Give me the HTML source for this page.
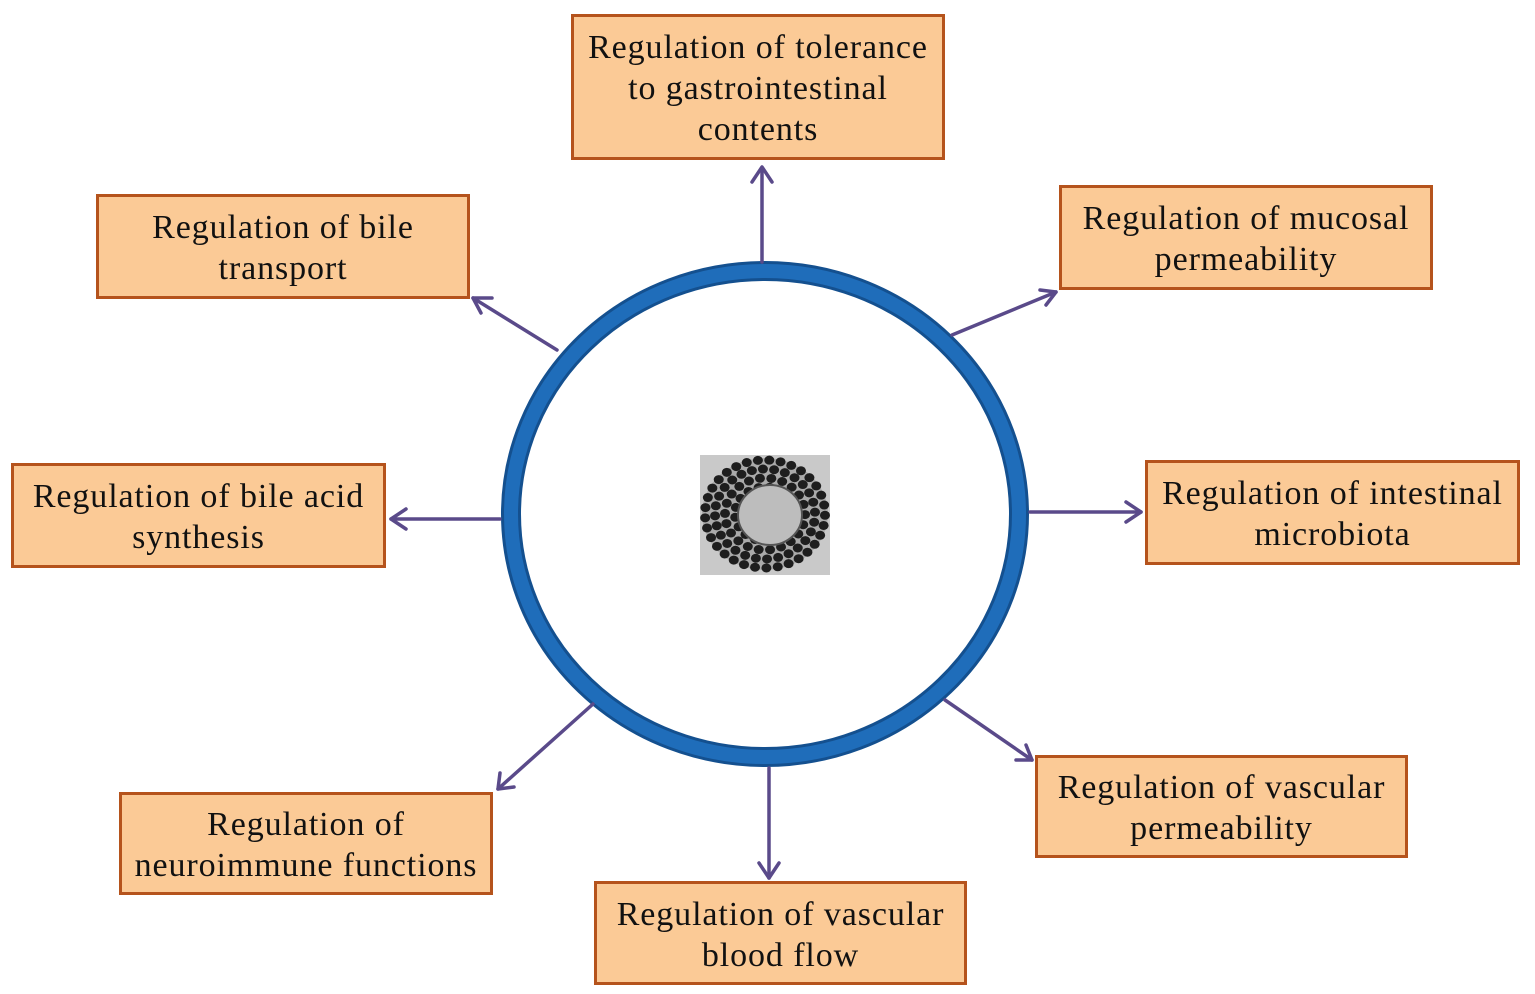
<!DOCTYPE html>
<html><head><meta charset="utf-8"><style>
body{margin:0;background:#fff;width:1535px;height:994px;overflow:hidden;position:relative;font-family:"Liberation Serif",serif;}
.b{position:absolute;box-sizing:border-box;background:#fbca96;border:3px solid #b5531c;display:flex;align-items:center;justify-content:center;text-align:center;font-size:34px;line-height:41px;color:#111;letter-spacing:0.9px;padding-top:3px;}
svg{position:absolute;left:0;top:0}
</style></head><body>
<svg width="1535" height="994" id="s">
<ellipse cx="765" cy="514" rx="254" ry="243" fill="none" stroke="#14508f" stroke-width="20"/>
<ellipse cx="765" cy="514" rx="254" ry="243" fill="none" stroke="#1f6dba" stroke-width="14"/>
<rect x="700" y="455" width="130" height="120" fill="#c9c9c9"/>
<ellipse cx="765" cy="514" rx="63" ry="56" fill="#aaa"/>
<g id="bl" fill="#1e1e1e"></g>
<ellipse cx="770" cy="515" rx="32" ry="30" fill="#bdbdbd" stroke="#555" stroke-width="2"/>
<g stroke="#5a4a8a" stroke-width="3.5" fill="none" stroke-linecap="round" stroke-linejoin="round">
<line x1="762" y1="262" x2="762" y2="168"/><polyline points="752,182 762,167 772,182"/>
<line x1="557" y1="350" x2="473" y2="298"/><polyline points="492,298 473,298 481,313"/>
<line x1="952" y1="335" x2="1056" y2="292"/><polyline points="1040,290 1056,292 1046,305"/>
<line x1="500" y1="519" x2="391" y2="519"/><polyline points="406,509 391,519 406,529"/>
<line x1="1030" y1="512" x2="1141" y2="512"/><polyline points="1126,502 1141,512 1126,522"/>
<line x1="593" y1="704" x2="498" y2="789"/><polyline points="500,773 498,789 514,787"/>
<line x1="769" y1="768" x2="769" y2="878"/><polyline points="759,863 769,878 779,863"/>
<line x1="945" y1="700" x2="1032" y2="760"/><polyline points="1016,760 1032,760 1026,745"/>
</g>
</svg>
<script>
var g=document.getElementById('bl'),h='';
for(var r=30;r<=62;r+=10){var n=Math.round(r*0.55);for(var i=0;i<n;i++){var a=i/n*6.283+r;h+='<ellipse cx="'+(765+r*Math.cos(a))+'" cy="'+(514+r*0.9*Math.sin(a))+'" rx="5" ry="4.5"/>';}}
g.innerHTML=h;
</script>
<div class="b" style="left:571px;top:14px;width:374px;height:146px">Regulation of tolerance<br>to gastrointestinal<br>contents</div>
<div class="b" style="left:96px;top:194px;width:374px;height:105px">Regulation of bile<br>transport</div>
<div class="b" style="left:1059px;top:185px;width:374px;height:105px">Regulation of mucosal<br>permeability</div>
<div class="b" style="left:11px;top:463px;width:375px;height:105px">Regulation of bile acid<br>synthesis</div>
<div class="b" style="left:1145px;top:460px;width:375px;height:105px">Regulation of intestinal<br>microbiota</div>
<div class="b" style="left:119px;top:792px;width:374px;height:103px">Regulation of<br>neuroimmune functions</div>
<div class="b" style="left:594px;top:881px;width:373px;height:104px">Regulation of vascular<br>blood flow</div>
<div class="b" style="left:1035px;top:755px;width:373px;height:103px">Regulation of vascular<br>permeability</div>
</body></html>
